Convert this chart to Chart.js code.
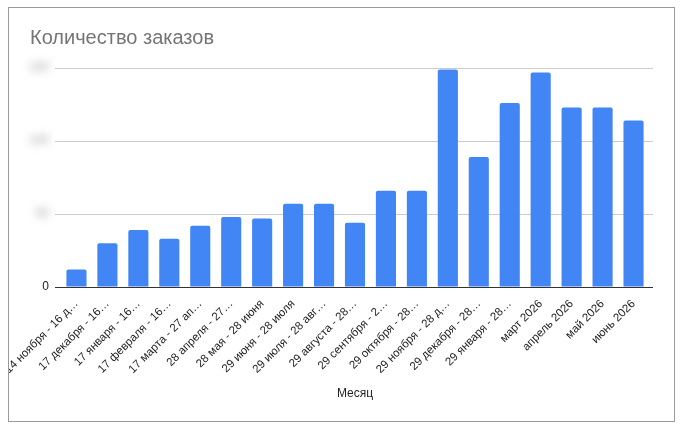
<!DOCTYPE html>
<html>
<head>
<meta charset="utf-8">
<script src="https://cdn.jsdelivr.net/npm/chart.js@4.4.1/dist/chart.umd.min.js"></script>
<style>
  html, body { margin: 0; padding: 0; background: #fff; }
  #frame { position: absolute; left: 8px; top: 7px; width: 665px; height: 413px; border: 1px solid #9a9a9a; overflow: hidden; }
  #c { display: block; }
</style>
</head>
<body>
<div id="frame"><canvas id="c" width="665" height="413"></canvas></div>
<script>
const categories = [
  "14 ноября - 16 д…", "17 декабря - 16…", "17 января - 16…", "17 февраля - 16…",
  "17 марта - 27 ап…", "28 апреля - 27…", "28 мая - 28 июня", "29 июня - 28 июля",
  "29 июля - 28 авг…", "29 августа - 28…", "29 сентября - 2…", "29 октября - 28…",
  "29 ноября - 28 д…", "29 декабря - 28…", "29 января - 28…", "март 2026",
  "апрель 2026", "май 2026", "июнь 2026"
];
const orders = [12, 30, 39, 33, 42, 48, 47, 57, 57, 44, 66, 66, 149, 89, 126, 147, 123, 123, 114];
const yTicks = [0, 50, 100, 150];
const chartTitle = "Количество заказов";
const xTitle = "Месяц";

const FONT = "'Liberation Sans', Arial, sans-serif";
const gridColor = (c) => (c.tick && c.tick.value === 0) ? '#333333' : '#cccccc';

const blurLabels = {
  id: 'blurLabels',
  afterDraw(chart) {
    const y = chart.scales.y;
    const ctx = chart.ctx;
    ctx.save();
    ctx.filter = 'blur(4px)';
    ctx.fillStyle = '#9a9a9a';
    ctx.font = "12px " + FONT;
    ctx.textAlign = 'right';
    ctx.textBaseline = 'middle';
    yTicks.forEach(v => {
      if (v === 0) return;
      ctx.fillText(String(v), chart.chartArea.left - 12, y.getPixelForValue(v));
    });
    ctx.restore();
  }
};

new Chart(document.getElementById('c'), {
  type: 'bar',
  data: {
    labels: categories,
    datasets: [{
      data: orders,
      backgroundColor: '#4285f4',
      borderRadius: 2,
      categoryPercentage: 1,
      barPercentage: 0.65
    }]
  },
  plugins: [blurLabels],
  options: {
    responsive: false,
    animation: false,
    layout: { padding: { left: 21, right: 21, top: 0, bottom: 16 } },
    plugins: {
      legend: { display: false },
      tooltip: { enabled: false },
      title: {
        display: true,
        text: chartTitle,
        align: 'start',
        color: '#757575',
        font: { family: FONT, size: 20, weight: 'normal' },
        padding: { top: 18, bottom: 18 }
      }
    },
    scales: {
      x: {
        grid: { display: false },
        border: { display: false },
        ticks: {
          color: '#222',
          font: { family: FONT, size: 11.5 },
          minRotation: 45,
          maxRotation: 45,
          autoSkip: false,
          padding: 2
        },
        title: {
          display: true,
          text: xTitle,
          color: '#222',
          font: { family: FONT, size: 12 },
          padding: { top: 4, bottom: 4 }
        },
        afterFit(s) { s.height = 118; s.paddingLeft = 0; s.paddingRight = 0; }
      },
      y: {
        min: 0,
        max: 150,
        border: { display: false },
        grid: { color: gridColor, drawTicks: true, tickLength: 6 },
        afterBuildTicks(s) { s.ticks = yTicks.map(v => ({ value: v })); },
        ticks: {
          padding: 6,
          color: (c) => c.tick && c.tick.value === 0 ? '#222' : 'rgba(0,0,0,0)',
          font: { family: FONT, size: 12 }
        },
        afterFit(s) { s.width = 31; s.paddingTop = 0; s.paddingBottom = 0; }
      },
      y2: {
        position: 'right',
        min: 0,
        max: 150,
        border: { display: false },
        grid: { color: gridColor, drawOnChartArea: false, drawTicks: true, tickLength: 4 },
        afterBuildTicks(s) { s.ticks = yTicks.map(v => ({ value: v })); },
        ticks: { display: false },
        afterFit(s) { s.width = 4; s.paddingTop = 0; s.paddingBottom = 0; }
      }
    }
  }
});
</script>
</body>
</html>
